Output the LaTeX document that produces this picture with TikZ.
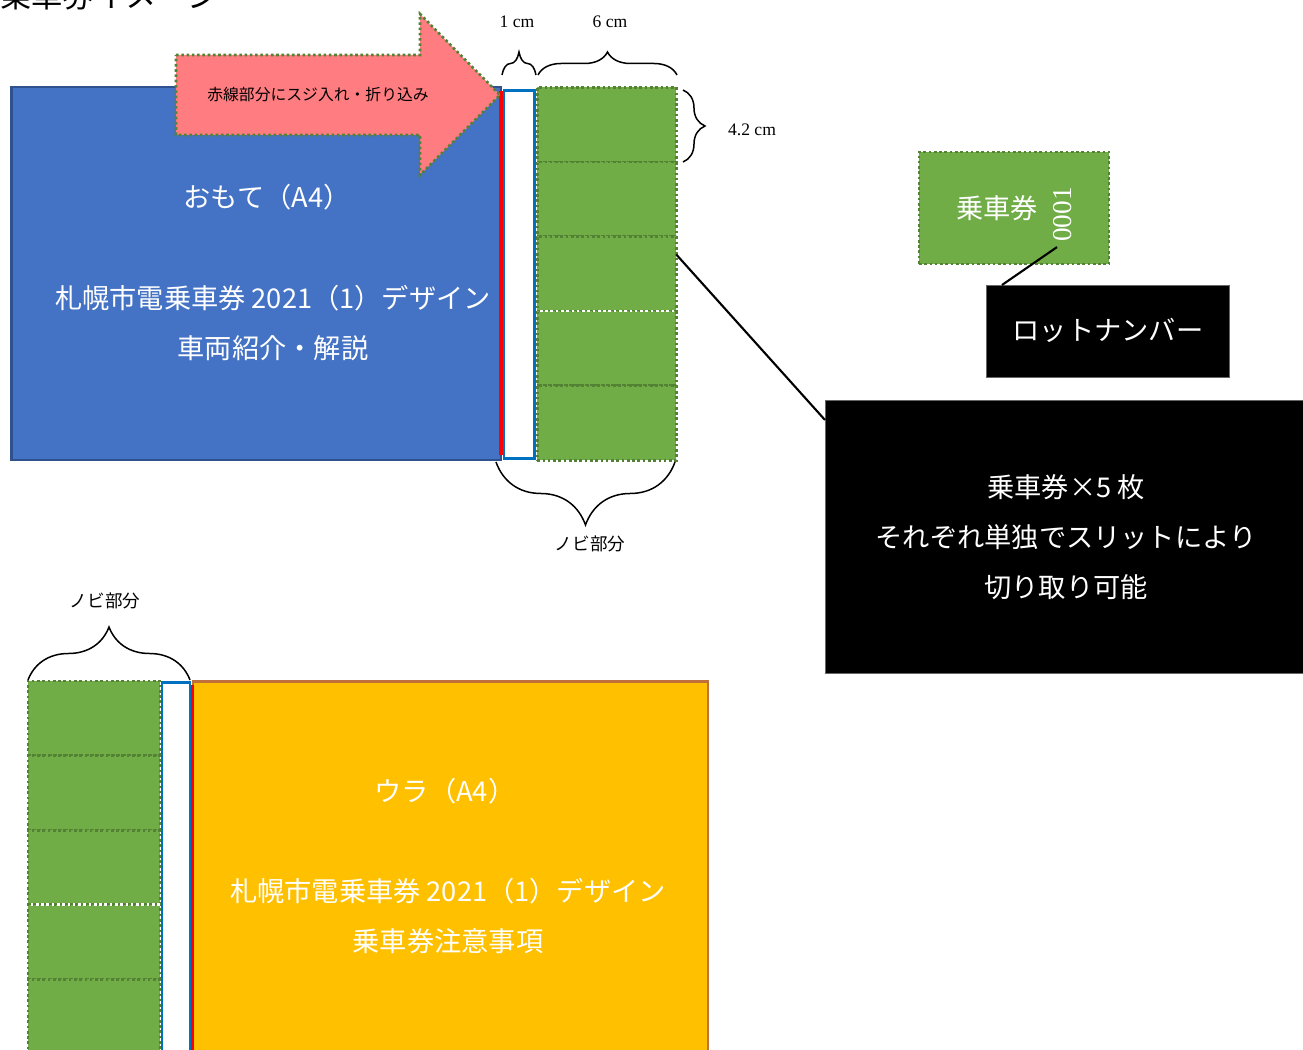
\documentclass[tikz,border=0pt]{standalone}
\usepackage{fontspec}
\newfontfamily\cjk{Noto Sans CJK JP}
\newfontfamily\latin{Liberation Serif}
\usetikzlibrary{calc,decorations.pathreplacing}
\definecolor{frontblue}{HTML}{4472C4}
\definecolor{frontedge}{HTML}{2F528F}
\definecolor{ticketgreen}{HTML}{70AD47}
\definecolor{dotgreen}{HTML}{548235}
\definecolor{stripblue}{HTML}{0070C0}
\definecolor{arrowpink}{HTML}{FF7C80}
\definecolor{backorange}{HTML}{FFC000}
\definecolor{backedge}{HTML}{C0703A}

\begin{document}
\begin{tikzpicture}[x=0.02cm, y=-0.02cm]
		\tikzstyle{sheet} = [anchor=north west, inner sep=0, outer sep=0]
		\tikzstyle{front} = [sheet, draw=frontedge, fill=frontblue, line width=1.2pt, minimum width=9.8cm, minimum height=7.46cm]
		\tikzstyle{back} = [sheet, draw=backedge, fill=backorange, line width=1.2pt, minimum width=10.3cm, minimum height=7.5cm]
		\tikzstyle{cell} = [sheet, fill=ticketgreen, draw=dotgreen, line width=1.5pt, dash pattern=on 1.5pt off 1.5pt, minimum width=2.78cm, minimum height=1.492cm]
		\tikzstyle{paper_strip} = [sheet, fill=white, draw=stripblue, line width=1.7pt]
		\tikzstyle{red_line} = [draw=red, line width=1.9pt]
		\tikzstyle{white_dots} = [draw=white, line width=1.5pt, dash pattern=on 1.5pt off 1.5pt, dash phase=1.5pt]
		\tikzstyle{black_box} = [sheet, fill=black, draw=black!60, line width=0.5pt]
		\tikzstyle{white_text} = [text=white, inner sep=0, font=\cjk\fontsize{15.5}{28.4}\selectfont, align=center]
		\tikzstyle{tag_text} = [inner sep=0, font=\cjk\fontsize{10}{12}\selectfont]
		\tikzstyle{size_text} = [inner sep=0, font=\latin\fontsize{10}{12}\selectfont]
		\tikzstyle{brace_line} = [decorate, line width=0.85pt]
		\tikzstyle{pointer} = [draw, line width=1.2pt]
		\useasboundingbox (0,0) rectangle (1303,1050);
		\node [anchor=base west, inner sep=0, font=\cjk\fontsize{17.8}{20}\selectfont] (title) at (0,8) {乗車券イメージ};
		\node [front] (omote) at (11.5,87) {};
		\foreach \i in {1,...,5}
			\node [cell] (fcell\i) at (537.3,{87.3+74.6*(\i-1)}) {};
		\draw [white_dots] (fcell3.south west) -- (fcell3.south east);
		\node [paper_strip, minimum width=0.61cm, minimum height=7.37cm] (fstrip) at (504,90.5) {};
		\draw [red_line] (501,91) -- (501,455);
		\draw [draw=dotgreen, fill=arrowpink, line width=1.5pt, dash pattern=on 1.5pt off 1.5pt] (176,55) -- (420,55) -- (420,14) -- (500,95) -- (420,175) -- (420,135) -- (176,135) -- cycle;
		\node [inner sep=0, font=\cjk\fontsize{9}{11}\selectfont] (fold) at (318,95) {赤線部分にスジ入れ・折り込み};
		\node [white_text] (omote1) at (267,197) {おもて（A4）};
		\node [white_text] (omote2) at (273,298) {札幌市電乗車券 2021（1）デザイン};
		\node [white_text] (omote3) at (273,348) {車両紹介・解説};
		\draw [brace_line, decoration={brace, amplitude=0.46cm}] (502,75) -- (536,75);
		\draw [brace_line, decoration={brace, amplitude=0.46cm}] (538,75) -- (677,75);
		\draw [brace_line, decoration={brace, amplitude=0.44cm}] (683,90) -- (683,162);
		\draw [brace_line, decoration={brace, amplitude=1.26cm}] (675,462) -- (496,462);
		\node [size_text] (one_cm) at (517,22) {1 cm};
		\node [size_text] (six_cm) at (610,22) {6 cm};
		\node [size_text] (height_cm) at (752,130) {4.2 cm};
		\node [tag_text] (nobi1) at (590,544) {ノビ部分};
		\node [sheet, fill=ticketgreen, draw=dotgreen, line width=1.5pt, dash pattern=on 1.5pt off 1.5pt, minimum width=3.8cm, minimum height=2.24cm] (sample) at (919,152) {};
		\node [white_text] (sample_name) at (997,208) {乗車券};
		\node [text=white, inner sep=0, rotate=90, font=\latin\fontsize{15.5}{18}\selectfont] (number) at (1063,214.5) {0001};
		\node [black_box, minimum width=4.86cm, minimum height=1.84cm] (lot) at (986,285) {};
		\node [white_text] (lot_text) at (1108,330) {ロットナンバー};
		\draw [pointer] ($(number.west)+(-6,5)$) -- ($(lot.north west)+(16,0)$);
		\node [black_box, minimum width=9.6cm, minimum height=5.46cm] (note) at (825,400) {};
		\node [white_text] (note_text) at (1066,537) {乗車券×5 枚\\それぞれ単独でスリットにより\\切り取り可能};
		\draw [pointer] ($(fcell3.north east)+(0,18)$) -- ($(note.north west)+(0,20)$);
		\node [back] (ura) at (193,681.5) {};
		\foreach \i in {1,...,5}
			\node [cell, minimum width=2.64cm] (bcell\i) at (28,{681+74.6*(\i-1)}) {};
		\draw [white_dots] (bcell3.south west) -- (bcell3.south east);
		\node [paper_strip, minimum width=0.56cm, minimum height=8cm] (bstrip) at (162,682.5) {};
		\draw [red_line] (192.5,685) -- (192.5,1060);
		\node [white_text] (ura1) at (445,791) {ウラ（A4）};
		\node [white_text] (ura2) at (448,891) {札幌市電乗車券 2021（1）デザイン};
		\node [white_text] (ura3) at (448,941) {乗車券注意事項};
		\draw [brace_line, decoration={brace, amplitude=1.06cm}] (28,680) -- (190,680);
		\node [tag_text] (nobi2) at (105,601) {ノビ部分};
\end{tikzpicture}
\end{document}
